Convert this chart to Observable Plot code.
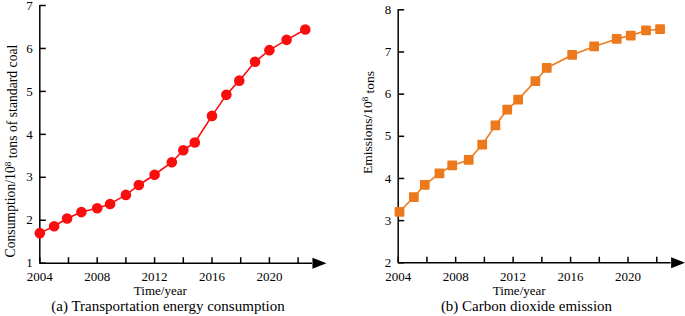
<!DOCTYPE html>
<html>
<head>
<meta charset="utf-8">
<script src="https://cdn.jsdelivr.net/npm/d3@7"></script>
<script src="https://cdn.jsdelivr.net/npm/@observablehq/plot@0.6"></script>
<style>
  html, body { margin: 0; padding: 0; background: #fff; }
  #wrap { display: flex; width: 685px; height: 316px; overflow: hidden; font-family: "Liberation Serif", "Times New Roman", Times, "DejaVu Serif", serif; }
  .panel { position: relative; }
  .panel svg, .panel svg text { font-family: "Liberation Serif", "Times New Roman", Times, "DejaVu Serif", serif !important; }
  .cap { font-size: 15px; line-height: 20px; height: 20px; text-align: center; color: #000; white-space: nowrap; }
</style>
</head>
<body>
<div id="wrap">
  <div class="panel" id="pa" style="width:342px"></div>
  <div class="panel" id="pb" style="width:343px"></div>
</div>
<script>
// ---- data ----
const energyYears = [2004, 2005, 2005.9, 2006.9, 2008, 2008.9, 2010, 2010.9, 2012, 2013.2, 2014, 2014.8, 2016, 2017, 2017.9, 2019, 2020, 2021.2, 2022.5];
const energyValues = [1.70, 1.86, 2.04, 2.19, 2.28, 2.38, 2.59, 2.82, 3.06, 3.35, 3.63, 3.81, 4.43, 4.92, 5.25, 5.69, 5.96, 6.20, 6.44];

const co2Years = [2004.09, 2005.09, 2005.85, 2006.87, 2007.76, 2008.91, 2009.85, 2010.77, 2011.59, 2012.35, 2013.55, 2014.34, 2016.11, 2017.64, 2019.21, 2020.19, 2021.25, 2022.23];
const co2Values = [3.21, 3.56, 3.85, 4.12, 4.31, 4.44, 4.80, 5.26, 5.63, 5.87, 6.31, 6.62, 6.93, 7.13, 7.31, 7.39, 7.51, 7.54];

const xTickYears = [2004, 2006, 2008, 2010, 2012, 2014, 2016, 2018, 2020, 2022];
const xLabelYears = [2004, 2008, 2012, 2016, 2020];
const energyTicks = [1, 2, 3, 4, 5, 6, 7];
const co2Ticks = [2, 3, 4, 5, 6, 7, 8];

const xLabel = "Time/year";
const energyYLabel = "Consumption/10⁸ tons of standard coal";
const co2YLabel = "Emissions/10⁸ tons";
const energyCaption = "(a) Transportation energy consumption";
const co2Caption = "(b) Carbon dioxide emission";

// ---- helpers ----
const FONT = "'Liberation Serif', 'Times New Roman', Times, 'DejaVu Serif', serif";
const tickUp = { draw(ctx) { ctx.moveTo(0, 0); ctx.lineTo(0, -6); } };
const tickRight = { draw(ctx) { ctx.moveTo(0, 0); ctx.lineTo(6, 0); } };
const arrowHead = { draw(ctx) { ctx.moveTo(14, 0); ctx.lineTo(0, -5.5); ctx.lineTo(0, 5.5); ctx.closePath(); } };

function panel(opts) {
  const data = opts.xs.map((x, i) => ({ x, y: opts.ys[i] }));
  const yMin = opts.yTicks[0], yMax = opts.yTicks[opts.yTicks.length - 1];
  const xMin = 2004, xLineEnd = 2023;
  const chart = Plot.plot({
    width: opts.width,
    height: 296,
    marginLeft: opts.marginLeft,
    marginRight: opts.marginRight,
    marginTop: opts.marginTop,
    marginBottom: opts.marginBottom,
    style: { fontFamily: FONT, fontSize: "13px", color: "#000", background: "#fff", overflow: "visible" },
    x: { domain: [2004, 2024] },
    y: { domain: [yMin, yMax] },
    marks: [
      Plot.ruleX([xMin], { stroke: "#000", strokeWidth: 1.5 }),
      Plot.ruleY([yMin], { x1: xMin, x2: xLineEnd, stroke: "#000", strokeWidth: 1.5 }),
      Plot.dot([xLineEnd], { x: d => d, y: yMin, symbol: arrowHead, fill: "#000", stroke: "none", r: 5 }),
      Plot.dot(xTickYears, { x: d => d, y: yMin, symbol: tickUp, stroke: "#000", strokeWidth: 1.5, fill: "none", r: 5 }),
      Plot.dot(opts.yTicks, { x: xMin, y: d => d, symbol: tickRight, stroke: "#000", strokeWidth: 1.5, fill: "none", r: 5 }),
      Plot.axisX({ ticks: xLabelYears, tickSize: 0, tickPadding: 9, tickFormat: d => String(d), label: null }),
      Plot.axisY({ ticks: opts.yTicks, tickSize: 0, tickPadding: 7, tickFormat: d => String(d), label: null }),
      Plot.text([xLabel], { frameAnchor: "bottom", text: d => d, dx: opts.xLabelDx, dy: 28, lineAnchor: "middle", textAnchor: "middle", fontSize: 13 }),
      Plot.text([opts.yLabel], { frameAnchor: "left", text: d => d, rotate: -90, dx: opts.yLabelDx, dy: opts.yLabelDy, lineAnchor: "middle", textAnchor: "middle", fontSize: opts.yLabelSize }),
      Plot.line(data, { x: "x", y: "y", stroke: opts.color, strokeWidth: 1.6 }),
      Plot.dot(data, opts.marker)
    ]
  });
  // superscript for 10^8
  d3.select(chart).selectAll("text").each(function () {
    const t = this.textContent;
    if (t.includes("⁸") && this.childElementCount === 0) {
      const [a, b] = t.split("⁸");
      const sel = d3.select(this);
      sel.text(null);
      sel.append("tspan").text(a);
      sel.append("tspan").attr("dy", "-0.45em").attr("font-size", "9px").text("8");
      sel.append("tspan").attr("dy", "0.45em").text(b);
    }
  });
  const host = document.getElementById(opts.host);
  host.appendChild(chart);
  const cap = document.createElement("div");
  cap.className = "cap";
  cap.style.paddingLeft = opts.capShift > 0 ? (2 * opts.capShift) + "px" : "0";
  cap.style.paddingRight = opts.capShift < 0 ? (-2 * opts.capShift) + "px" : "0";
  cap.textContent = opts.caption;
  host.appendChild(cap);
}

panel({
  host: "pa", width: 342, marginLeft: 39.3, marginRight: 15.7, marginTop: 5, marginBottom: 33.3,
  xs: energyYears, ys: energyValues, yTicks: energyTicks, color: "#fa0d0d",
  yLabel: energyYLabel, yLabelSize: 13.7, yLabelDx: -29.3, yLabelDy: 16.7, xLabelDx: -23,
  caption: energyCaption, capShift: -3,
  marker: { x: "x", y: "y", r: 5.3, fill: "#fa0d0d", stroke: "none" }
});

panel({
  host: "pb", width: 343, marginLeft: 55.7, marginRight: 0, marginTop: 9.3, marginBottom: 33.7,
  xs: co2Years, ys: co2Values, yTicks: co2Ticks, color: "#ec7a1c",
  yLabel: co2YLabel, yLabelSize: 13.5, yLabelDx: -30.2, yLabelDy: -13.8, xLabelDx: -22.7,
  caption: co2Caption, capShift: 13,
  marker: { x: "x", y: "y", r: 4.6, symbol: "square", fill: "#ec7a1c", stroke: "#ec7a1c", strokeWidth: 1.6, strokeLinejoin: "round" }
});
</script>
</body>
</html>
